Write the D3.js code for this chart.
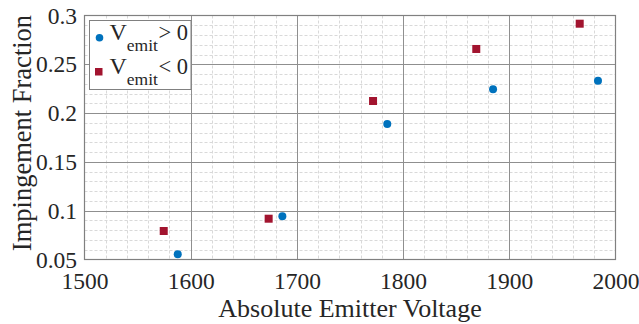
<!DOCTYPE html>
<html><head><meta charset="utf-8">
<script src="https://cdn.jsdelivr.net/npm/d3@7"></script>
<style>body{margin:0;background:#fff}svg{display:block}</style>
</head><body><svg id="c" width="639" height="324"></svg>
<script>
const posX = [1587.8, 1686.3, 1785.1, 1884.7, 1983.5];
const posY = [0.0553, 0.0943, 0.1888, 0.2244, 0.2332];
const negX = [1574.6, 1673.4, 1771.7, 1868.9, 1966.3];
const negY = [0.0792, 0.0918, 0.2124, 0.2657, 0.2916];
const xTicks = [1500, 1600, 1700, 1800, 1900, 2000];
const yTicks = [0.05, 0.1, 0.15, 0.2, 0.25, 0.3];
const xLabel = "Absolute Emitter Voltage";
const yLabel = "Impingement Fraction";

const FONT = "'Liberation Serif', 'Times New Roman', Times, serif";
const svg = d3.select("#c").attr("font-family", FONT);
const L = 84.5, R = 615.5, T = 15.5, B = 259.5;
const x = d3.scaleLinear().domain([1500, 2000]).range([L, R]);
const y = d3.scaleLinear().domain([0.05, 0.3]).range([B, T]);

// minor grid
const xMinor = d3.range(1500, 2000.1, 20).filter(v => v % 100 !== 0);
const yMinor = d3.range(5, 30.1, 1).map(v => v / 100).filter(v => Math.round(v * 100) % 5 !== 0);
const g = svg.append("g");
g.selectAll(".xm").data(xMinor).join("line").attr("x1", d => Math.round(x(d)) + 0.5).attr("x2", d => Math.round(x(d)) + 0.5).attr("y1", T).attr("y2", B)
  .attr("stroke", "#d9d9d9").attr("stroke-width", 1).attr("stroke-dasharray", "3,2");
g.selectAll(".ym").data(yMinor).join("line").attr("y1", d => Math.round(y(d)) + 0.5).attr("y2", d => Math.round(y(d)) + 0.5).attr("x1", L).attr("x2", R)
  .attr("stroke", "#d9d9d9").attr("stroke-width", 1).attr("stroke-dasharray", "3,2");
// major grid
g.selectAll(".xg").data(xTicks.slice(1, -1)).join("line").attr("x1", d => Math.round(x(d)) + 0.5).attr("x2", d => Math.round(x(d)) + 0.5).attr("y1", T).attr("y2", B)
  .attr("stroke", "#8f8f8f").attr("stroke-width", 1);
g.selectAll(".yg").data(yTicks.slice(1, -1)).join("line").attr("y1", d => Math.round(y(d)) + 0.5).attr("y2", d => Math.round(y(d)) + 0.5).attr("x1", L).attr("x2", R)
  .attr("stroke", "#8f8f8f").attr("stroke-width", 1);

// box
svg.append("rect").attr("x", L).attr("y", T).attr("width", R - L).attr("height", B - T)
  .attr("fill", "none").attr("stroke", "#808080").attr("stroke-width", 1.2);

// axes
const xa = svg.append("g").attr("transform", `translate(0,${B})`)
  .call(d3.axisBottom(x).tickValues(xTicks).tickSize(0).tickFormat(d3.format("d")))
  .attr("font-family", FONT).attr("font-size", 23.5);
xa.select(".domain").remove();
xa.selectAll("text").attr("fill", "#262626").attr("y", 29).attr("dy", 0);
const ya = svg.append("g").attr("transform", `translate(${L},0)`)
  .call(d3.axisLeft(y).tickValues(yTicks).tickSize(0).tickFormat(d => String(+d.toFixed(2))))
  .attr("font-family", FONT).attr("font-size", 23.5);
ya.select(".domain").remove();
ya.selectAll("text").attr("fill", "#262626").attr("x", -7.5).attr("y", 7.5).attr("dy", 0);

svg.append("text").attr("x", (L + R) / 2).attr("y", 316.5).attr("text-anchor", "middle").attr("font-size", 26).attr("fill", "#262626").text(xLabel);
svg.append("text").attr("transform", `translate(31,133) rotate(-90)`).attr("text-anchor", "middle").attr("font-size", 26.5).attr("fill", "#262626").text(yLabel);

// data
const blue = "#0072BD", red = "#A2142F";
svg.append("g").selectAll("circle").data(posX.map((v, i) => [v, posY[i]])).join("circle")
  .attr("cx", d => x(d[0])).attr("cy", d => y(d[1])).attr("r", 4).attr("fill", blue);
const s = 8;
svg.append("g").selectAll("rect").data(negX.map((v, i) => [v, negY[i]])).join("rect")
  .attr("x", d => x(d[0]) - s / 2).attr("y", d => y(d[1]) - s / 2).attr("width", s).attr("height", s).attr("fill", red);

// legend
const lg = svg.append("g");
lg.append("rect").attr("x", 89.5).attr("y", 20.5).attr("width", 101.5).attr("height", 69)
  .attr("fill", "#fff").attr("stroke", "#808080").attr("stroke-width", 1);
const entries = [{ m: "c", op: "> 0", yy: 40 }, { m: "s", op: "< 0", yy: 74 }];
entries.forEach(e => {
  if (e.m === "c") lg.append("circle").attr("cx", 99.5).attr("cy", 37.7).attr("r", 3.8).attr("fill", blue);
  else lg.append("rect").attr("x", 95).attr("y", 68).attr("width", 7.5).attr("height", 7.5).attr("fill", red);
  const t = lg.append("text").attr("x", 109.5).attr("y", e.yy).attr("font-size", 24).attr("fill", "#262626");
  t.append("tspan").text("V");
  t.append("tspan").attr("font-size", 17.5).attr("dy", 11).text("emit");
  t.append("tspan").attr("x", 158.5).attr("dy", -11).attr("font-size", 22.5).text(e.op);
});
</script></body></html>
